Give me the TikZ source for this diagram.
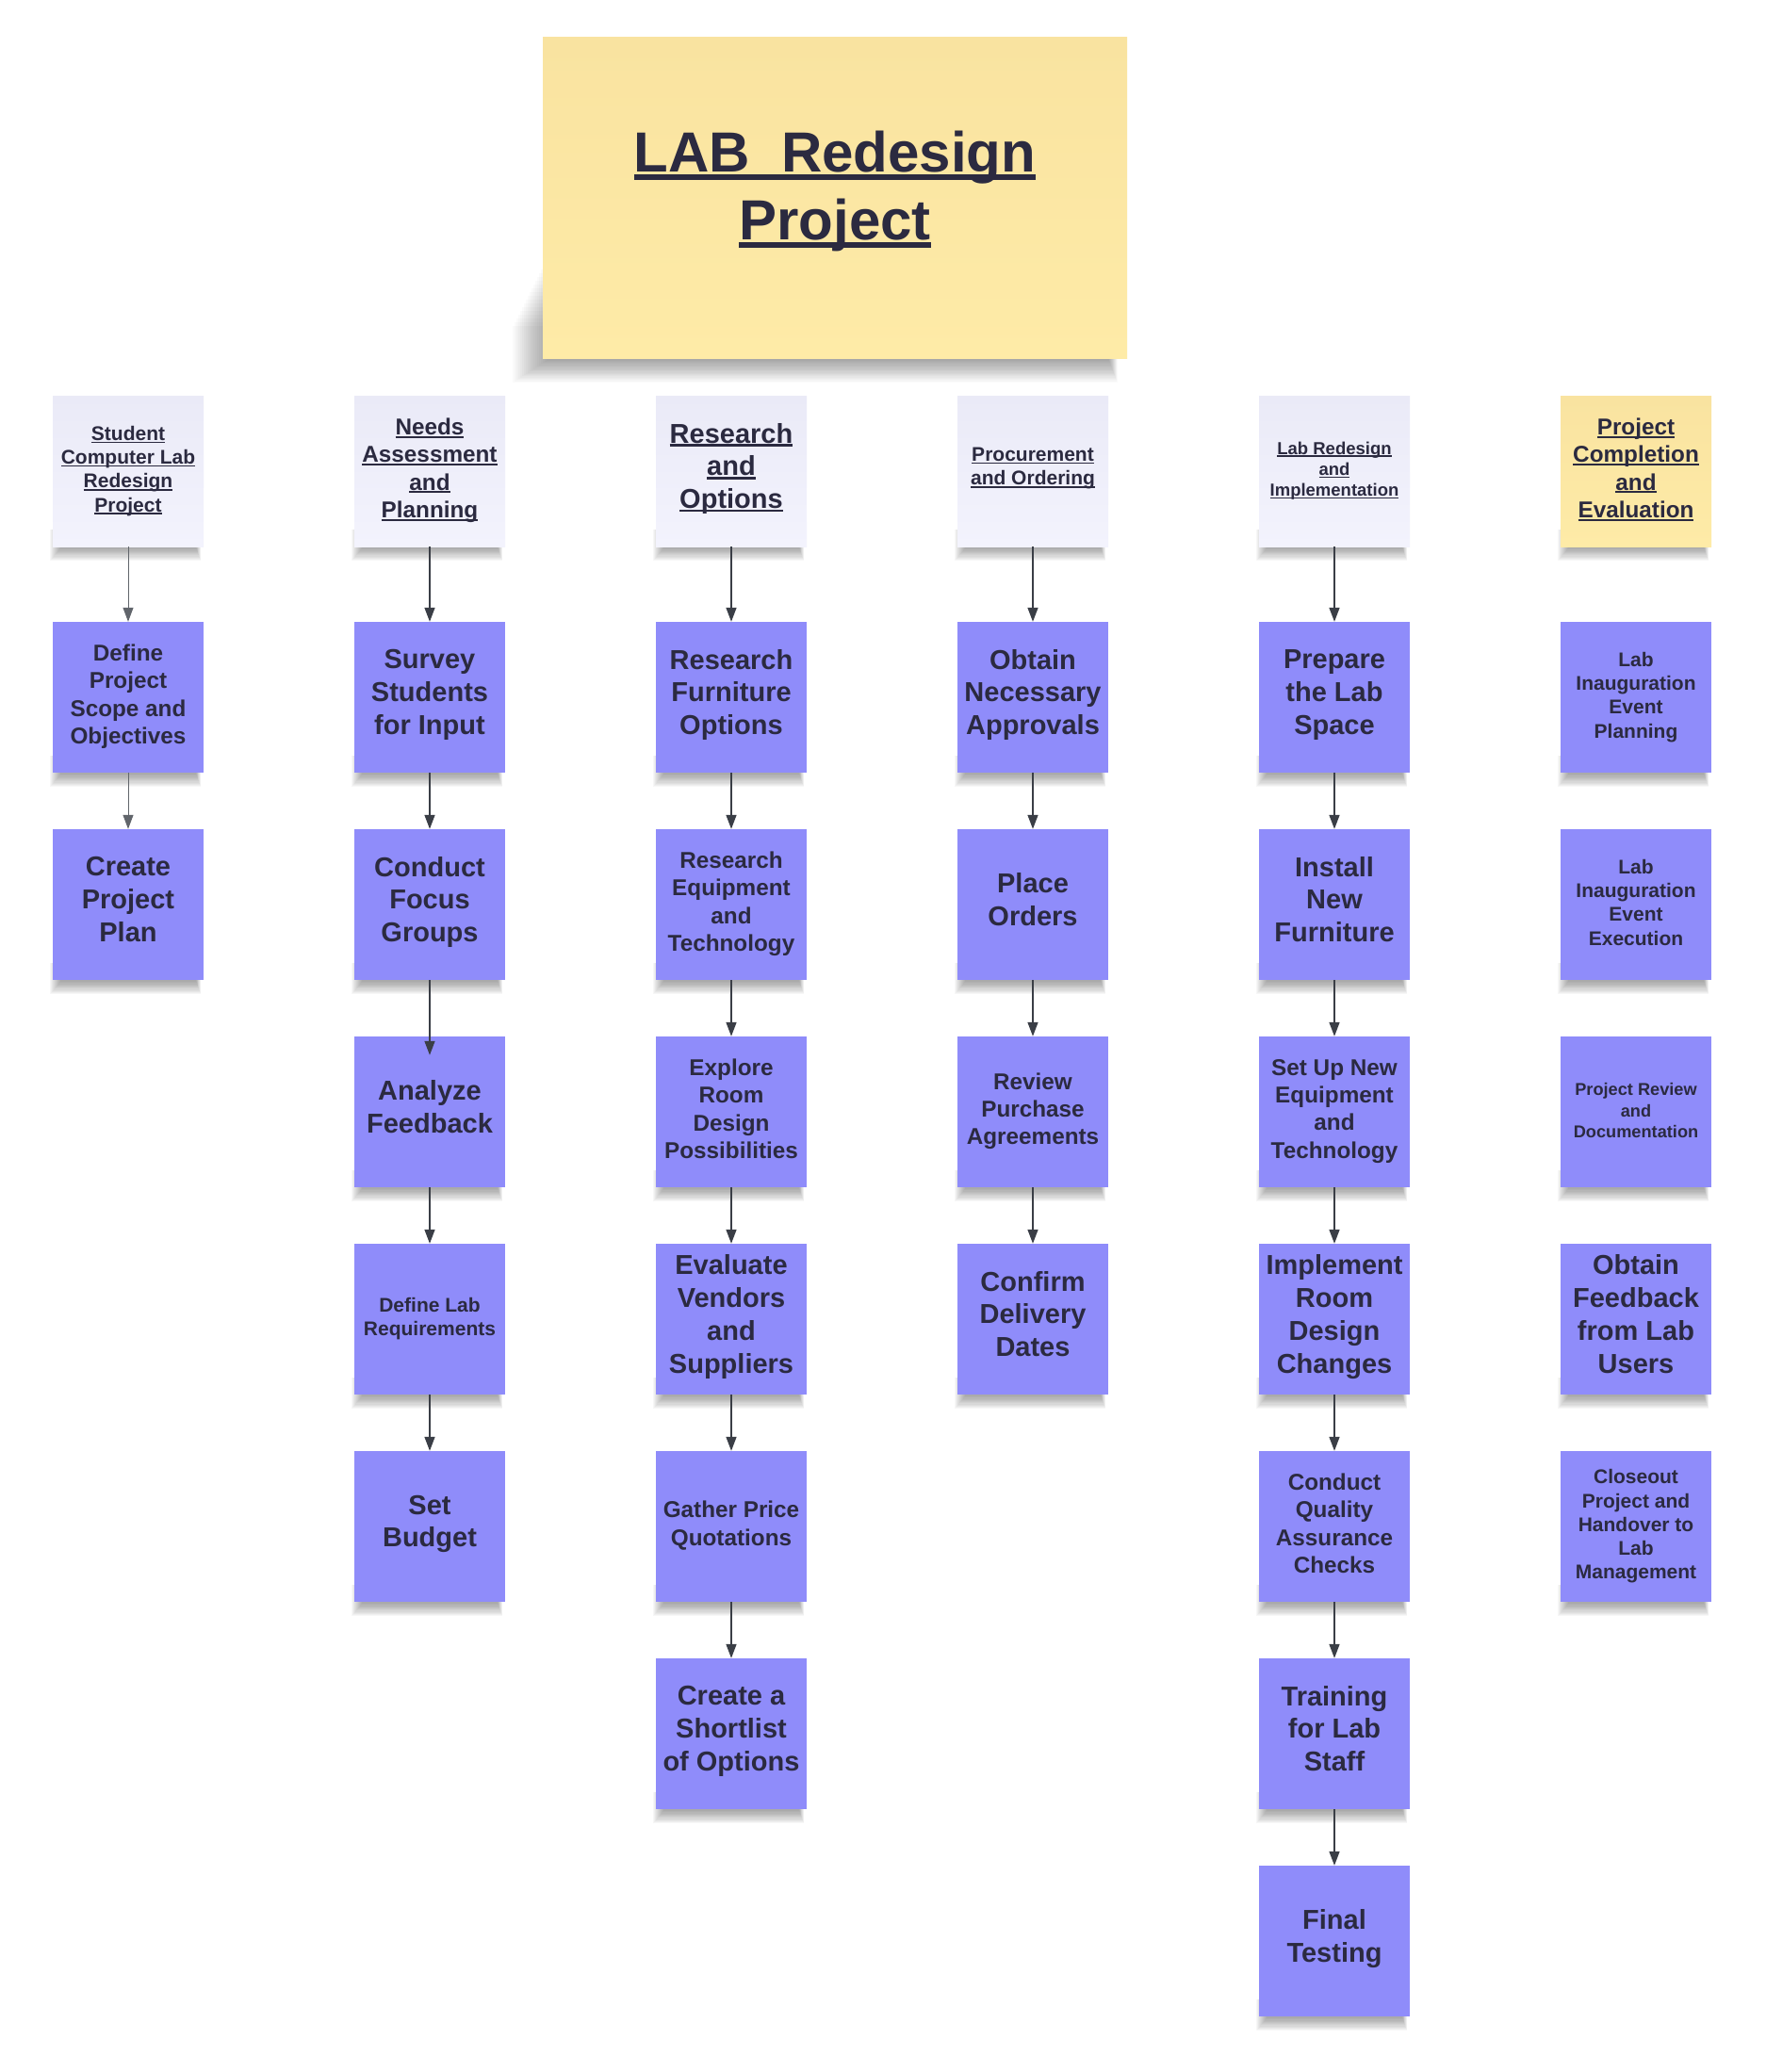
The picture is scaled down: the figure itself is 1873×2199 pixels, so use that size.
\documentclass[tikz,border=0pt]{standalone}
\usepackage{fontspec}
\setmainfont{Liberation Sans}
\usetikzlibrary{arrows.meta,backgrounds}
\definecolor{ink}{HTML}{2B2A40}
\definecolor{taskfill}{HTML}{8F8CFA}
\definecolor{headtop}{HTML}{EAEAF7}
\definecolor{headbot}{HTML}{F3F3FD}
\definecolor{yeltop}{HTML}{F9E3A0}
\definecolor{yelbot}{HTML}{FEEBA7}
\definecolor{arrowc}{HTML}{3A3E46}
\newcommand\ulin[1]{\setbox0\hbox{#1}\rlap{\rule[-0.13em]{\wd0}{0.085em}}\box0}
\newcommand\lowstrut[1]{\vrule width 0pt height 0pt depth #1}
\tikzset{
  card/.style={minimum width=160pt, minimum height=160pt, inner sep=0pt, align=center, text=ink},
  task/.style={card, fill=taskfill},
  head/.style={card, top color=headtop, bottom color=headbot},
  headyel/.style={card, top color=yeltop, bottom color=yelbot},
  fXXIX/.style={font=\bfseries\fontsize{29}{34.8}\selectfont, execute at end node={\lowstrut{11.4pt}}},
  fXXIV/.style={font=\bfseries\fontsize{24.3}{29.3}\selectfont, execute at end node={\lowstrut{6.5pt}}},
  fXXI/.style={font=\bfseries\fontsize{21}{25.2}\selectfont, execute at end node={\lowstrut{4.5pt}}},
  fXVIIIb/.style={font=\bfseries\fontsize{18.5}{22.2}\selectfont, execute at end node={\lowstrut{4pt}}},
  fXVIII/.style={font=\bfseries\fontsize{18.2}{22.4}\selectfont, execute at end node={\lowstrut{3pt}}},
  flow/.style={draw=arrowc, line width=1.5pt, -{Triangle[length=15pt,width=11pt]}},
  thinflow/.style={draw=arrowc!80, line width=1pt, -{Triangle[length=15pt,width=11pt]}},
}
\begin{document}
\begin{tikzpicture}[x=1pt,y=-1pt]
\useasboundingbox (0,0) rectangle (1873,2199);
% title
\node[card, minimum width=620pt, minimum height=340pt, top color=yeltop, bottom color=yelbot,
      font=\bfseries\fontsize{60}{72}\selectfont] (title) at (886,210)
  {\ulin{LAB\ \ Redesign}\\\ulin{Project}\lowstrut{26pt}};
% column 1
\node[head, fXXI] (h1) at (136,500) {\ulin{Student}\\\ulin{Computer Lab}\\\ulin{Redesign}\\\ulin{Project}};
\node[task, fXXIV] (a1) at (136,740) {Define\\Project\\Scope and\\Objectives};
\node[task, fXXIX] (a2) at (136,960) {Create\\Project\\Plan};
% column 2
\node[head, fXXIV] (h2) at (456,500) {\ulin{Needs}\\\ulin{Assessment}\\\ulin{and}\\\ulin{Planning}};
\node[task, fXXIX] (b1) at (456,740) {Survey\\Students\\for Input};
\node[task, fXXIX] (b2) at (456,960) {Conduct\\Focus\\Groups};
\node[task, fXXIX] (b3) at (456,1180) {Analyze\\Feedback};
\node[task, fXXI] (b4) at (456,1400) {Define Lab\\Requirements};
\node[task, fXXIX] (b5) at (456,1620) {Set\\Budget};
% column 3
\node[head, fXXIX] (h3) at (776,500) {\ulin{Research}\\\ulin{and}\\\ulin{Options}};
\node[task, fXXIX] (c1) at (776,740) {Research\\Furniture\\Options};
\node[task, fXXIV] (c2) at (776,960) {Research\\Equipment\\and\\Technology};
\node[task, fXXIV] (c3) at (776,1180) {Explore\\Room\\Design\\Possibilities};
\node[task, fXXIX] (c4) at (776,1400) {Evaluate\\Vendors\\and\\Suppliers};
\node[task, fXXIV] (c5) at (776,1620) {Gather Price\\Quotations};
\node[task, fXXIX] (c6) at (776,1840) {Create a\\Shortlist\\of Options};
% column 4
\node[head, fXXI] (h4) at (1096,500) {\ulin{Procurement}\\\ulin{and Ordering}\lowstrut{10pt}};
\node[task, fXXIX] (d1) at (1096,740) {Obtain\\Necessary\\Approvals};
\node[task, fXXIX] (d2) at (1096,960) {Place\\Orders};
\node[task, fXXIV] (d3) at (1096,1180) {Review\\Purchase\\Agreements};
\node[task, fXXIX] (d4) at (1096,1400) {Confirm\\Delivery\\Dates};
% column 5
\node[head, fXVIIIb] (h5) at (1416,500) {\ulin{Lab Redesign}\\\ulin{and}\\\ulin{Implementation}};
\node[task, fXXIX] (e1) at (1416,740) {Prepare\\the Lab\\Space};
\node[task, fXXIX] (e2) at (1416,960) {Install\\New\\Furniture};
\node[task, fXXIV] (e3) at (1416,1180) {Set Up New\\Equipment\\and\\Technology};
\node[task, fXXIX] (e4) at (1416,1400) {Implement\\Room\\Design\\Changes};
\node[task, fXXIV] (e5) at (1416,1620) {Conduct\\Quality\\Assurance\\Checks};
\node[task, fXXIX] (e6) at (1416,1840) {Training\\for Lab\\Staff};
\node[task, fXXIX] (e7) at (1416,2060) {Final\\Testing};
% column 6
\node[headyel, fXXIV] (h6) at (1736,500) {\ulin{Project}\\\ulin{Completion}\\\ulin{and}\\\ulin{Evaluation}};
\node[task, fXXI] (g1) at (1736,740) {Lab\\Inauguration\\Event\\Planning};
\node[task, fXXI] (g2) at (1736,960) {Lab\\Inauguration\\Event\\Execution};
\node[task, fXVIII] (g3) at (1736,1180) {Project Review\\and\\Documentation};
\node[task, fXXIX] (g4) at (1736,1400) {Obtain\\Feedback\\from Lab\\Users};
\node[task, fXXI] (g5) at (1736,1620) {Closeout\\Project and\\Handover to\\Lab\\Management};
% connectors
\draw[thinflow] (h1.south) -- (a1.north);
\draw[thinflow] (a1.south) -- (a2.north);
\draw[flow] (h2.south) -- (b1.north);
\draw[flow] (b1.south) -- (b2.north);
\draw[flow, shorten >=-20pt] (b2.south) -- (b3.north);
\draw[flow] (b3.south) -- (b4.north);
\draw[flow] (b4.south) -- (b5.north);
\draw[flow] (h3.south) -- (c1.north);
\draw[flow] (c1.south) -- (c2.north);
\draw[flow] (c2.south) -- (c3.north);
\draw[flow] (c3.south) -- (c4.north);
\draw[flow] (c4.south) -- (c5.north);
\draw[flow] (c5.south) -- (c6.north);
\draw[flow] (h4.south) -- (d1.north);
\draw[flow] (d1.south) -- (d2.north);
\draw[flow] (d2.south) -- (d3.north);
\draw[flow] (d3.south) -- (d4.north);
\draw[flow] (h5.south) -- (e1.north);
\draw[flow] (e1.south) -- (e2.north);
\draw[flow] (e2.south) -- (e3.north);
\draw[flow] (e3.south) -- (e4.north);
\draw[flow] (e4.south) -- (e5.north);
\draw[flow] (e5.south) -- (e6.north);
\draw[flow] (e6.south) -- (e7.north);
% background and shadows
\begin{scope}[on background layer]
  \fill[white] (0,0) rectangle (1873,2199);
  \foreach \k in {0,...,19} {
    \pgfmathsetmacro\sl{6-2*\k}\pgfmathsetmacro\st{110-4*\k}
    \pgfmathsetmacro\sr{20-0.5*\k}\pgfmathsetmacro\sb{1+1.3*\k}
    \fill[black, opacity=0.018] ([xshift=\sl pt, yshift=\st pt]title.south west) rectangle ([xshift=-\sr pt, yshift=-\sb pt]title.south east);
  }
  \foreach \n in {h1,a1,a2,h2,b1,b2,b3,b4,b5,h3,c1,c2,c3,c4,c5,c6,h4,d1,d2,d3,d4,
                  h5,e1,e2,e3,e4,e5,e6,e7,h6,g1,g2,g3,g4,g5} {
    \foreach \k in {0,...,11} {
      \pgfmathsetmacro\sl{8-\k}\pgfmathsetmacro\sr{8-0.45*\k}\pgfmathsetmacro\sb{2+1.2*\k}
      \fill[black, opacity=0.03] ([xshift=\sl pt, yshift=18pt]\n.south west) rectangle ([xshift=-\sr pt, yshift=-\sb pt]\n.south east);
    }
  }
\end{scope}
\end{tikzpicture}
\end{document}
